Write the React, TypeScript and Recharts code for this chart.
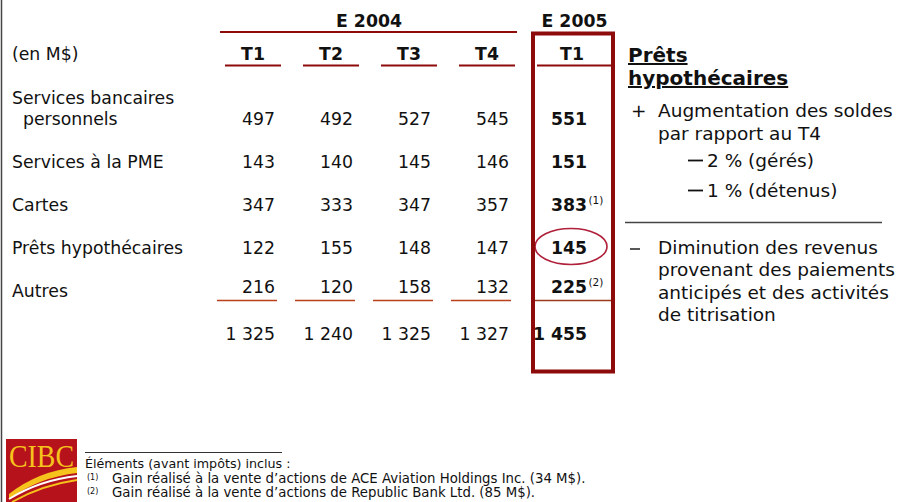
import React from "react";
import { ScatterChart, Scatter, XAxis, YAxis } from "recharts";

const yearGroups = ["E 2004", "E 2005"];
const quarters = ["T1", "T2", "T3", "T4", "T1"];
const rowLabels = ["Services bancaires\npersonnels", "Services à la PME", "Cartes", "Prêts hypothécaires", "Autres", ""];
const t1_2004 = [497, 143, 347, 122, 216, 1325];
const t2_2004 = [492, 140, 333, 155, 120, 1240];
const t3_2004 = [527, 145, 347, 148, 158, 1325];
const t4_2004 = [545, 146, 357, 147, 132, 1327];
const t1_2005 = [551, 151, 383, 145, 225, 1455];
const notes2005 = ["", "", "(1)", "", "(2)", ""];
const circledRow = 3;
const sideTitle = ["Prêts", "hypothécaires"];
const plusBullet = ["Augmentation des soldes", "par rapport au T4"];
const subBullets = ["2 % (gérés)", "1 % (détenus)"];
const minusBullet = ["Diminution des revenus", "provenant des paiements", "anticipés et des activités", "de titrisation"];
const footIntro = "Éléments (avant impôts) inclus :";
const footNotes = [
  ["(1)", "Gain réalisé à la vente d’actions de ACE Aviation Holdings Inc. (34 M$)."],
  ["(2)", "Gain réalisé à la vente d’actions de Republic Bank Ltd. (85 M$)."],
];

const columns = [t1_2004, t2_2004, t3_2004, t4_2004, t1_2005];
const data = columns.flatMap((vals, col) =>
  vals.map((value, row) => ({
    col,
    row,
    value,
    note: col === 4 ? notes2005[row] : "",
    circled: col === 4 && row === circledRow,
  }))
);

const FONT = "'DejaVu Sans', Verdana, sans-serif";
const TS = 17.3;
const RS = 18.5;
const FS = 13.3;
const DARK_RED = "#8E0B0B";
const fmt = (n: number) =>
  n >= 1000 ? `${Math.floor(n / 1000)} ${String(n % 1000).padStart(3, "0")}` : String(n);

const ValueCell = (props: any) => {
  const { cx, cy, payload } = props;
  if (cx == null || cy == null) return null;
  const bold = payload.col === 4;
  const isLastItem = payload.row === rowLabels.length - 2;
  const base = cy + 6 + (isLastItem ? -4 : 0);
  return (
    <g>
      {payload.circled && (
        <ellipse cx={cx - 16} cy={cy - 1.5} rx={36} ry={18} fill="none" stroke="#B0203A" strokeWidth={1.6} />
      )}
      <text x={cx} y={base} textAnchor="end" fontFamily={FONT} fontSize={TS} fontWeight={bold ? "bold" : "normal"} fill="#111">
        {fmt(payload.value)}
      </text>
      {payload.note && (
        <text x={cx + 1.5} y={base - 7} fontFamily={FONT} fontSize={10.5} fill="#111">
          {payload.note}
        </text>
      )}
      {isLastItem && (
        <line
          x1={payload.col === 4 ? cx - 52 : cx - 58}
          x2={payload.col === 4 ? cx + 25 : cx + 2}
          y1={cy + 9.5}
          y2={cy + 9.5}
          stroke={payload.col === 4 ? "#9A3A1A" : "#B8401A"}
          strokeWidth={1.4}
        />
      )}
    </g>
  );
};

const HeaderTick = (props: any) => {
  const { x, payload } = props;
  const i = payload.value as number;
  const last = i === 4;
  return (
    <g>
      <text x={last ? x - 15 : x - 22} y={60} textAnchor="middle" fontFamily={FONT} fontSize={TS} fontWeight="bold" fill="#111">
        {quarters[i]}
      </text>
      <line x1={x - 50} x2={last ? x + 24 : x + 6} y1={65.5} y2={65.5} stroke={DARK_RED} strokeWidth={2} />
    </g>
  );
};

const RowTick = (props: any) => {
  const { y, payload } = props;
  const lines = rowLabels[payload.value as number].split("\n");
  if (lines.length === 2) {
    return (
      <g>
        <text x={12} y={y - 15} fontFamily={FONT} fontSize={TS} fill="#111">{lines[0]}</text>
        <text x={23} y={y + 6} fontFamily={FONT} fontSize={TS} fill="#111">{lines[1]}</text>
      </g>
    );
  }
  return (
    <text x={12} y={y + 6} fontFamily={FONT} fontSize={TS} fill="#111">{lines[0]}</text>
  );
};

const Overlay = () => (
  <svg width={899} height={502} style={{ position: "absolute", left: 0, top: 0, pointerEvents: "none" }}>
    <line x1={1.5} x2={1.5} y1={0} y2={502} stroke="#444" strokeWidth={1.5} />
    <text x={12} y={60} fontFamily={FONT} fontSize={TS} fill="#111">(en M$)</text>
    <text x={369} y={27} textAnchor="middle" fontFamily={FONT} fontSize={TS} fontWeight="bold" fill="#111">{yearGroups[0]}</text>
    <text x={574.5} y={27} textAnchor="middle" fontFamily={FONT} fontSize={TS} fontWeight="bold" fill="#111">{yearGroups[1]}</text>
    <line x1={220} x2={517} y1={32} y2={32} stroke={DARK_RED} strokeWidth={2} />
    <rect x={533} y={33.5} width={80} height={338} fill="none" stroke={DARK_RED} strokeWidth={4} />

    {sideTitle.map((t, i) => (
      <text key={t} x={628} y={62 + i * 23} fontFamily={FONT} fontSize={20} fontWeight="bold" fill="#111" textDecoration="underline">
        {t}
      </text>
    ))}
    <text x={631} y={117} fontFamily={FONT} fontSize={RS} fill="#111">+</text>
    {plusBullet.map((t, i) => (
      <text key={t} x={658} y={117 + i * 22.5} fontFamily={FONT} fontSize={RS} fill="#111">{t}</text>
    ))}
    {subBullets.map((t, i) => (
      <g key={t}>
        <line x1={688} x2={703} y1={160.5 + i * 30} y2={160.5 + i * 30} stroke="#111" strokeWidth={1.8} />
        <text x={707} y={167 + i * 30} fontFamily={FONT} fontSize={RS} fill="#111">{t}</text>
      </g>
    ))}
    <line x1={625} x2={882} y1={222.5} y2={222.5} stroke="#444" strokeWidth={1.4} />
    <line x1={630} x2={640} y1={249} y2={249} stroke="#111" strokeWidth={1.4} />
    {minusBullet.map((t, i) => (
      <text key={t} x={658} y={254 + i * 22.3} fontFamily={FONT} fontSize={RS} fill="#111">{t}</text>
    ))}

    <rect x={6} y={439} width={71} height={63} fill="#B5121B" />
    <text x={9} y={467} fontFamily="'Liberation Serif', serif" fontSize={31} fill="#F6C21C" textLength={65} lengthAdjust="spacingAndGlyphs">
      CIBC
    </text>
    <path d="M9,494 Q38,471 77,467 L77,473 Q40,477 9,499 Z" fill="#F6C21C" />
    <path d="M9,499 Q40,480 77,476" fill="none" stroke="#FFFFFF" strokeWidth={1.8} />
    <path d="M12,502 Q42,485 77,480" fill="none" stroke="#F6C21C" strokeWidth={2} />

    <line x1={85} x2={282} y1={452.5} y2={452.5} stroke="#333" strokeWidth={1} />
    <text x={85} y={468} fontFamily={FONT} fontSize={FS - 0.6} fill="#111">{footIntro}</text>
    {footNotes.map(([n, t], i) => (
      <g key={n}>
        <text x={87} y={480 + i * 14} fontFamily={FONT} fontSize={8} fill="#111">{n}</text>
        <text x={112} y={483 + i * 14} fontFamily={FONT} fontSize={FS} fill="#111">{t}</text>
      </g>
    ))}
  </svg>
);

export default function App() {
  return (
    <div style={{ position: "absolute", left: 0, top: 0, width: 899, height: 502, background: "#fff" }}>
      <ScatterChart width={899} height={502} margin={{ top: 39, right: 312, bottom: 168, left: 0 }}>
        <XAxis
          dataKey="col"
          type="number"
          domain={[0, 4]}
          ticks={[0, 1, 2, 3, 4]}
          orientation="top"
          height={80}
          axisLine={false}
          tickLine={false}
          interval={0}
          tick={(p: any) => <HeaderTick {...p} />}
        />
        <YAxis
          dataKey="row"
          type="number"
          domain={[0, 5]}
          ticks={[0, 1, 2, 3, 4]}
          reversed
          width={275}
          axisLine={false}
          tickLine={false}
          interval={0}
          tick={(p: any) => <RowTick {...p} />}
        />
        <Scatter data={data} isAnimationActive={false} shape={(p: any) => <ValueCell {...p} />} />
      </ScatterChart>
      <Overlay />
    </div>
  );
}
